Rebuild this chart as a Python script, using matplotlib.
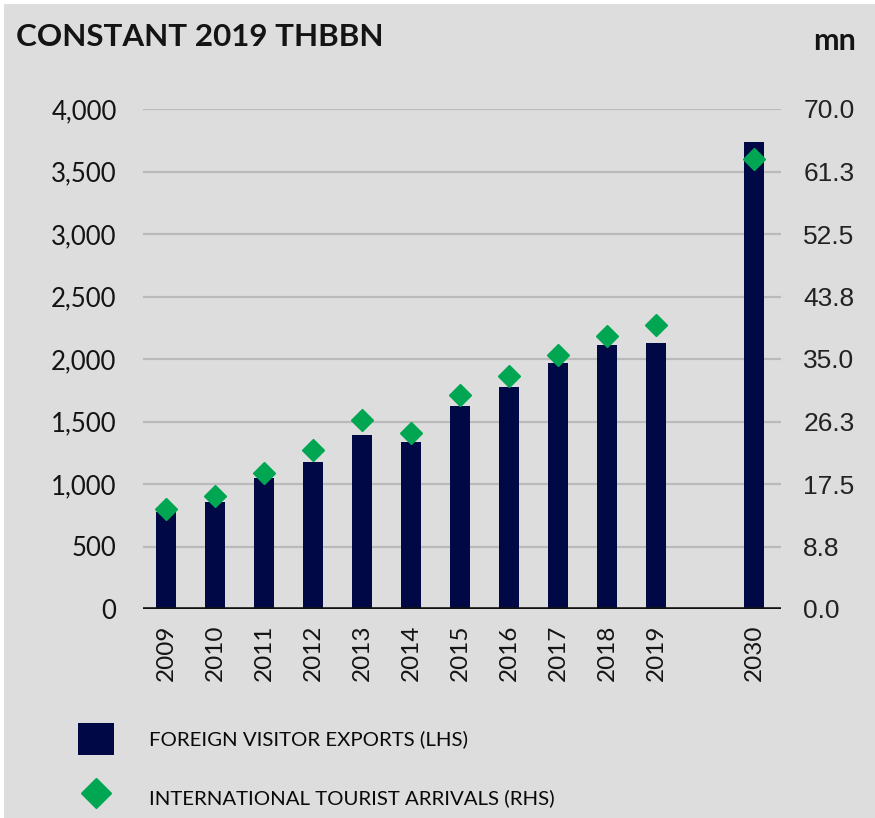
import numpy as np
import matplotlib
matplotlib.use('Agg')
import matplotlib.pyplot as plt
from matplotlib.patches import Rectangle

years = ['2009', '2010', '2011', '2012', '2013', '2014', '2015', '2016',
         '2017', '2018', '2019', '2030']
# 2030 sits one slot further right than 2019
positions = [0, 1, 2, 3, 4, 5, 6, 7, 8, 9, 10, 12]
exports = [775, 860, 1050, 1175, 1390, 1335, 1625, 1780, 1965, 2115, 2130, 3740]
arrivals = [14.0, 15.8, 19.0, 22.2, 26.5, 24.7, 29.9, 32.6, 35.5, 38.2, 39.8, 63.0]

left_ticks = [0, 500, 1000, 1500, 2000, 2500, 3000, 3500, 4000]
right_ticks = [0.0, 8.8, 17.5, 26.3, 35.0, 43.8, 52.5, 61.3, 70.0]

navy = '#000845'
green = '#00a651'
bg = '#dddddd'
ink = '#141414'
font = 'Lato'

fig = plt.figure(figsize=(8.75, 8.18), dpi=100, facecolor='white')
fig.add_artist(Rectangle((4 / 875, 0), 1, 1 - 4 / 818, transform=fig.transFigure,
                         facecolor=bg, edgecolor='none', zorder=0))

ax = fig.add_axes([143 / 875, 1 - 609 / 818, (781 - 143) / 875, 500 / 818])
ax.patch.set_visible(False)
bars = ax.bar(positions, exports, width=0.42, color=navy, zorder=2,
              label='FOREIGN VISITOR EXPORTS (LHS)')
ax.set_xlim(-0.47, 12.55)
ax.set_ylim(0, 4000)
ax.set_yticks(left_ticks)
ax.set_yticklabels(['{:,}'.format(v) for v in left_ticks], fontsize=18.5,
                   fontfamily=font, color=ink)
ax.set_xticks(positions)
ax.set_xticklabels(years, rotation=90, fontsize=17.5, fontfamily=font,
                   color=ink, va='top')
ax.tick_params(axis='both', length=0)
ax.tick_params(axis='y', pad=19)
ax.tick_params(axis='x', pad=11)
for v in left_ticks[1:]:
    ax.axhline(v, color='#bababa', lw=1.6, zorder=1)
ax.axhline(0, color='#111111', lw=2.6, zorder=3)
for s in ax.spines.values():
    s.set_visible(False)

ax2 = ax.twinx()
dots, = ax2.plot(positions, arrivals, linestyle='none', marker='D', markersize=11.5,
                 color=green, zorder=4, label='INTERNATIONAL TOURIST ARRIVALS (RHS)')
ax2.set_ylim(0, 70)
ax2.set_yticks(right_ticks)
ax2.set_yticklabels(['{:.1f}'.format(v) for v in right_ticks], fontsize=19,
                    fontfamily='Liberation Sans', color='#222222')
ax2.tick_params(axis='y', length=0, pad=16)
for s in ax2.spines.values():
    s.set_visible(False)

fig.text(16 / 875, 1 - 37 / 818, 'CONSTANT 2019 THBBN', fontsize=22.6, fontweight='bold',
         fontfamily=font, color=ink, va='center', ha='left')
fig.text(856 / 875, 1 - 41 / 818, 'mn', fontsize=22, fontweight='bold',
         fontfamily=font, color=ink, va='center', ha='right')

leg = fig.legend([bars, dots], [bars.get_label(), dots.get_label()],
                 loc='upper left', bbox_to_anchor=(78 / 875, 1 - 723 / 818),
                 frameon=False, prop={'family': font, 'size': 14.7},
                 handlelength=1.75, handleheight=2.0, handletextpad=1.75,
                 labelspacing=1.32, borderpad=0, borderaxespad=0, markerscale=1.35)
for t in leg.get_texts():
    t.set_color('#0a0a0a')

fig.savefig('out.png', dpi=100, facecolor=fig.get_facecolor())
